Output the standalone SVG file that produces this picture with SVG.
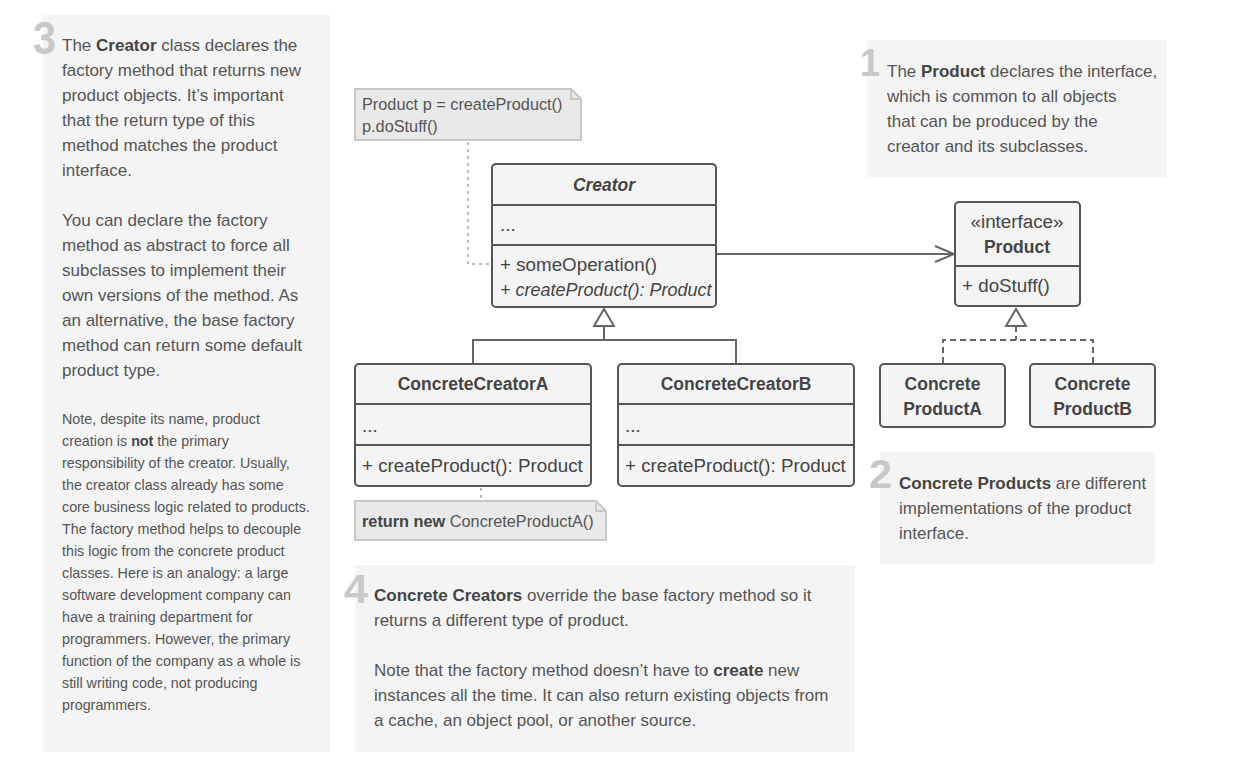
<svg xmlns="http://www.w3.org/2000/svg" width="1235" height="776" viewBox="0 0 1235 776">
<style>
text{font-family:"Liberation Sans",Arial,sans-serif;fill:#555;}
.b{font-weight:bold;fill:#444;}
.body{font-size:17px;}
.small{font-size:14.3px;}
.num{font-size:44px;font-weight:bold;fill:#c8c8c8;}
.panel{fill:#f4f4f4;}
.cls{fill:#f4f4f4;stroke:#555;stroke-width:2;}
.div{stroke:#555;stroke-width:2;fill:none;}
.ct{font-size:18.8px;fill:#444;}
.ch{font-size:17.5px;font-weight:bold;fill:#444;}
.note{fill:#e9e9e9;stroke:#c8c8c8;stroke-width:2;}
.nt{font-size:16.3px;fill:#555;}
.line{stroke:#666;stroke-width:2;fill:none;}
.dash{stroke:#666;stroke-width:2;fill:none;stroke-dasharray:6,4;}
.dot{stroke:#bbb;stroke-width:2;fill:none;stroke-dasharray:3,4;}
.tri{fill:#fff;stroke:#666;stroke-width:2;}
</style>

<g id="panel3">
<rect class="panel" x="43" y="15" width="287" height="737"/>
<text class="num" x="33" y="54" style="font-size:47px" textLength="23" lengthAdjust="spacingAndGlyphs">3</text>
<text class="body" x="62">
<tspan x="62" y="51">The <tspan class="b">Creator</tspan> class declares the</tspan>
<tspan x="62" y="76">factory method that returns new</tspan>
<tspan x="62" y="101">product objects. It’s important</tspan>
<tspan x="62" y="126">that the return type of this</tspan>
<tspan x="62" y="151">method matches the product</tspan>
<tspan x="62" y="176">interface.</tspan>
<tspan x="62" y="226">You can declare the factory</tspan>
<tspan x="62" y="251">method as abstract to force all</tspan>
<tspan x="62" y="276">subclasses to implement their</tspan>
<tspan x="62" y="301">own versions of the method. As</tspan>
<tspan x="62" y="326">an alternative, the base factory</tspan>
<tspan x="62" y="351">method can return some default</tspan>
<tspan x="62" y="376">product type.</tspan>
</text>
<text class="small">
<tspan x="62" y="424">Note, despite its name, product</tspan>
<tspan x="62" y="446">creation is <tspan class="b">not</tspan> the primary</tspan>
<tspan x="62" y="468">responsibility of the creator. Usually,</tspan>
<tspan x="62" y="490">the creator class already has some</tspan>
<tspan x="62" y="512">core business logic related to products.</tspan>
<tspan x="62" y="534">The factory method helps to decouple</tspan>
<tspan x="62" y="556">this logic from the concrete product</tspan>
<tspan x="62" y="578">classes. Here is an analogy: a large</tspan>
<tspan x="62" y="600">software development company can</tspan>
<tspan x="62" y="622">have a training department for</tspan>
<tspan x="62" y="644">programmers. However, the primary</tspan>
<tspan x="62" y="666">function of the company as a whole is</tspan>
<tspan x="62" y="688">still writing code, not producing</tspan>
<tspan x="62" y="710">programmers.</tspan>
</text>
</g>

<g id="panel1">
<rect class="panel" x="867" y="40" width="300" height="137"/>
<text class="num" x="860" y="76" style="font-size:38px" textLength="20" lengthAdjust="spacingAndGlyphs">1</text>
<text class="body">
<tspan x="887" y="77">The <tspan class="b">Product</tspan> declares the interface,</tspan>
<tspan x="887" y="102">which is common to all objects</tspan>
<tspan x="887" y="127">that can be produced by the</tspan>
<tspan x="887" y="152">creator and its subclasses.</tspan>
</text>
</g>

<g id="panel2">
<rect class="panel" x="880" y="452" width="275" height="112"/>
<text class="num" x="869" y="488" style="font-size:40px" textLength="23" lengthAdjust="spacingAndGlyphs">2</text>
<text class="body">
<tspan x="899" y="489"><tspan class="b">Concrete Products</tspan> are different</tspan>
<tspan x="899" y="514">implementations of the product</tspan>
<tspan x="899" y="539">interface.</tspan>
</text>
</g>

<g id="panel4">
<rect class="panel" x="355" y="565" width="500" height="187"/>
<text class="num" x="344" y="603" style="font-size:40px" textLength="24" lengthAdjust="spacingAndGlyphs">4</text>
<text class="body">
<tspan x="374" y="601"><tspan class="b">Concrete Creators</tspan> override the base factory method so it</tspan>
<tspan x="374" y="626">returns a different type of product.</tspan>
<tspan x="374" y="676">Note that the factory method doesn’t have to <tspan class="b">create</tspan> new</tspan>
<tspan x="374" y="701">instances all the time. It can also return existing objects from</tspan>
<tspan x="374" y="726">a cache, an object pool, or another source.</tspan>
</text>
</g>

<g id="connectors">
<path class="dot" d="M468,142 V264 H490"/>
<path class="dot" d="M481,488 V500"/>
<path class="line" d="M717,254 H953"/>
<path class="line" d="M935,246 L954,254 L935,262"/>
<path class="line" d="M604,326 V340 M473,364 V340 H736 V364"/>
<path class="tri" d="M604,309 L614,326 L594,326 Z"/>
<path class="dash" d="M1016,326 V340 M943,363 V340 H1093 V363"/>
<path class="tri" d="M1016,309 L1026,326 L1006,326 Z"/>
</g>

<g id="note1">
<path class="note" d="M355,89 H571 L581,99 V140 H355 Z"/>
<path class="note" d="M571,89 V99 H581" style="fill:none"/>
<text class="nt"><tspan x="362" y="110">Product p = createProduct()</tspan><tspan x="362" y="132">p.doStuff()</tspan></text>
</g>

<g id="creator">
<rect class="cls" x="492" y="164" width="224" height="143" rx="4"/>
<path class="div" d="M492,205 H716 M492,245 H716"/>
<text class="ch" x="604" y="191" text-anchor="middle" font-style="italic">Creator</text>
<text class="ct" x="500" y="231">...</text>
<text class="ct" x="500" y="271">+ someOperation()</text>
<text class="ct" x="500" y="296" font-style="italic" style="font-size:18px">+ createProduct(): Product</text>
</g>

<g id="product">
<rect class="cls" x="955" y="202" width="125" height="104" rx="4"/>
<path class="div" d="M955,266 H1080"/>
<text class="ct" x="1017" y="228" text-anchor="middle">«interface»</text>
<text class="ch" x="1017" y="253" text-anchor="middle">Product</text>
<text class="ct" x="962" y="292">+ doStuff()</text>
</g>

<g id="concreteCreatorA">
<rect class="cls" x="355" y="364" width="236" height="122" rx="4"/>
<path class="div" d="M355,404 H591 M355,445 H591"/>
<text class="ch" x="473" y="390" text-anchor="middle">ConcreteCreatorA</text>
<text class="ct" x="362" y="432">...</text>
<text class="ct" x="362" y="472">+ createProduct(): Product</text>
</g>

<g id="concreteCreatorB">
<rect class="cls" x="618" y="364" width="236" height="122" rx="4"/>
<path class="div" d="M618,404 H854 M618,445 H854"/>
<text class="ch" x="736" y="390" text-anchor="middle">ConcreteCreatorB</text>
<text class="ct" x="625" y="432">...</text>
<text class="ct" x="625" y="472">+ createProduct(): Product</text>
</g>

<g id="note2">
<path class="note" d="M355,501 H596 L606,511 V540 H355 Z"/>
<path class="note" d="M596,501 V511 H606" style="fill:none"/>
<text class="nt" x="362" y="527"><tspan class="b">return new</tspan> ConcreteProductA()</text>
</g>

<g id="concreteProductA">
<rect class="cls" x="880" y="364" width="125" height="63" rx="4"/>
<text class="ch" x="942.5" text-anchor="middle"><tspan x="942.5" y="390">Concrete</tspan><tspan x="942.5" y="415">ProductA</tspan></text>
</g>

<g id="concreteProductB">
<rect class="cls" x="1030" y="364" width="125" height="63" rx="4"/>
<text class="ch" x="1092.5" text-anchor="middle"><tspan x="1092.5" y="390">Concrete</tspan><tspan x="1092.5" y="415">ProductB</tspan></text>
</g>
</svg>
